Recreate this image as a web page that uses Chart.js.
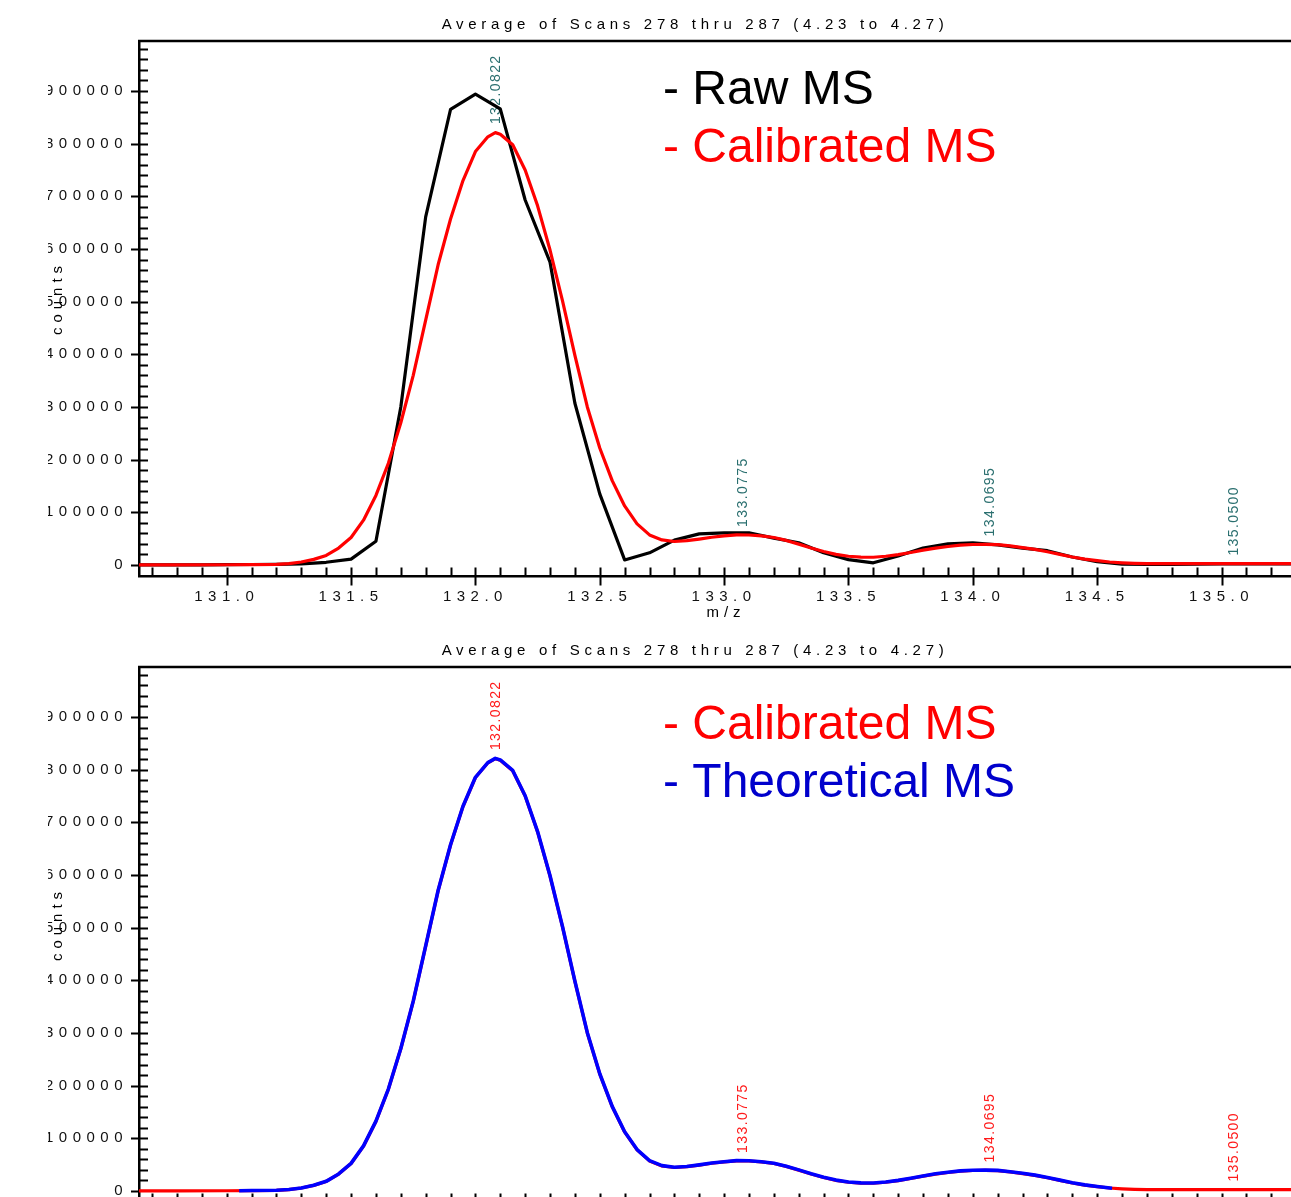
<!DOCTYPE html>
<html>
<head>
<meta charset="utf-8">
<title>Average of Scans 278 thru 287</title>
<script src="https://cdn.jsdelivr.net/npm/chart.js@4.4.1/dist/chart.umd.min.js"></script>
<style>
  html, body { margin: 0; padding: 0; background: #fff; overflow: hidden; width: 1291px; height: 1197px; }
  .panel { position: absolute; left: 0; width: 1320px; height: 626px; }
  #top { top: 0; }
  #bottom { top: 626px; }
</style>
</head>
<body>
<div class="panel" id="top"><canvas id="chartRaw"></canvas></div>
<div class="panel" id="bottom"><canvas id="chartTheo"></canvas></div>
<script>
// raw spectrum, one point every 0.1 m/z
const mzRaw = [130.6, 130.7, 130.8, 130.9, 131.0, 131.1, 131.2, 131.3, 131.4, 131.5, 131.6, 131.7, 131.8, 131.9,
    132.0, 132.1, 132.2, 132.3, 132.4, 132.5, 132.6, 132.7, 132.8, 132.9, 133.0, 133.1, 133.2, 133.3, 133.4,
    133.5, 133.6, 133.7, 133.8, 133.9, 134.0, 134.1, 134.2, 134.3, 134.4, 134.5, 134.6, 134.7, 134.8, 134.9,
    135.0, 135.1, 135.2, 135.3, 135.4];
const rawCounts = [0, 0, 0, 0, 500, 800, 1000, 2000, 5000, 11000, 45000, 300000, 661000, 865000,
    894000, 866000, 693000, 575000, 307000, 135000, 9500, 23000, 47000, 59000, 61000, 61000, 51000, 42000, 23000,
    10000, 4000, 17000, 32000, 40000, 42000, 38000, 32000, 27000, 15000, 6000, 1500, 1000, 1000, 1500,
    2000, 2000, 2000, 2000, 2000];

// calibrated spectrum
const mzCal = [130.6, 130.8, 131.0, 131.1, 131.2, 131.25, 131.3, 131.35, 131.4, 131.45, 131.5, 131.55, 131.6,
    131.65, 131.7, 131.75, 131.8, 131.85, 131.9, 131.95, 132.0, 132.05, 132.08, 132.1, 132.15, 132.2, 132.25,
    132.3, 132.35, 132.4, 132.45, 132.5, 132.55, 132.6, 132.65, 132.7, 132.75, 132.8, 132.85, 132.9, 132.95,
    133.0, 133.05, 133.1, 133.15, 133.2, 133.25, 133.3, 133.35, 133.4, 133.45, 133.5, 133.55, 133.6, 133.65,
    133.7, 133.75, 133.8, 133.85, 133.9, 133.95, 134.0, 134.05, 134.1, 134.15, 134.2, 134.25, 134.3, 134.35,
    134.4, 134.45, 134.5, 134.55, 134.6, 134.65, 134.7, 134.8, 134.9, 135.0, 135.1, 135.2, 135.4];
const calCounts = [0, 0, 300, 600, 1200, 2500, 5500, 10500, 18000, 32000, 52000, 85000, 132000,
    193000, 270000, 360000, 465000, 570000, 657000, 730000, 785000, 813000, 821000, 818000, 798000, 750000, 682000,
    598000, 502000, 398000, 300000, 222000, 160000, 112000, 78000, 57000, 47500, 44500, 46000, 49000, 52500,
    55000, 57000, 56800, 55000, 52000, 46500, 39500, 32000, 25500, 20000, 16500, 14800, 14600, 16500,
    19500, 23500, 28000, 32000, 35000, 37500, 38800, 39000, 38500, 36000, 33000, 29500, 25000, 20000,
    15000, 11000, 8000, 5500, 4000, 3000, 2500, 2300, 2300, 2500, 2600, 2500, 2500];

// theoretical spectrum (only covers 131.05 - 134.56)
const mzTheo = [131.05, 131.1, 131.2, 131.25, 131.3, 131.35, 131.4, 131.45, 131.5, 131.55, 131.6,
    131.65, 131.7, 131.75, 131.8, 131.85, 131.9, 131.95, 132.0, 132.05, 132.08, 132.1, 132.15, 132.2, 132.25,
    132.3, 132.35, 132.4, 132.45, 132.5, 132.55, 132.6, 132.65, 132.7, 132.75, 132.8, 132.85, 132.9, 132.95,
    133.0, 133.05, 133.1, 133.15, 133.2, 133.25, 133.3, 133.35, 133.4, 133.45, 133.5, 133.55, 133.6, 133.65,
    133.7, 133.75, 133.8, 133.85, 133.9, 133.95, 134.0, 134.05, 134.1, 134.15, 134.2, 134.25, 134.3, 134.35,
    134.4, 134.45, 134.5, 134.56];
const theoCounts = [450, 650, 1300, 2600, 5600, 10600, 18200, 32200, 52300, 85500, 132500,
    193500, 270500, 360500, 465500, 570500, 657500, 730500, 785500, 813500, 821500, 818500, 798500, 750500, 682500,
    598500, 502500, 398500, 300500, 222500, 160500, 112500, 78500, 57500, 48000, 45000, 46500, 49500, 53000,
    55500, 57500, 57300, 55500, 52500, 47000, 40000, 32500, 26000, 20500, 17000, 15300, 15100, 17000,
    20000, 24000, 28500, 32500, 35500, 38000, 39300, 39500, 39000, 36500, 33500, 30000, 25500, 20500,
    15500, 11500, 8500, 5000];

// labelled peaks
const peakMz = [132.0822, 133.0775, 134.0695, 135.0500];
const peakCounts = [822000, 57000, 39000, 2500];

// axis ticks
const yTicks = [0, 100000, 200000, 300000, 400000, 500000, 600000, 700000, 800000, 900000];
const xTicks = [131.0, 131.5, 132.0, 132.5, 133.0, 133.5, 134.0, 134.5, 135.0];

const titleText = "Average of Scans 278 thru 287 (4.23 to 4.27)";
const FONT = "'Liberation Sans', Arial, sans-serif";

function pts(xs, ys) {
    return xs.map((m, i) => ({ x: m, y: ys[i] }));
}

const msDecor = {
    id: "msDecor",
    beforeDraw(chart) {
        chart.ctx.letterSpacing = "5.5px";
    },
    beforeDatasetsDraw(chart, args, opts) {
        const { ctx, scales: { x, y } } = chart;
        ctx.save();
        ctx.letterSpacing = "1.4px";
        ctx.font = "14px " + FONT;
        ctx.fillStyle = opts.peakColor;
        ctx.textAlign = "left";
        ctx.textBaseline = "middle";
        peakMz.forEach((m, i) => {
            ctx.save();
            ctx.translate(x.getPixelForValue(m), y.getPixelForValue(peakCounts[i]) - 8);
            ctx.rotate(-Math.PI / 2);
            ctx.fillText(m.toFixed(4), 0, 0);
            ctx.restore();
        });
        ctx.restore();
    },
    afterDraw(chart, args, opts) {
        const { ctx, chartArea: a, scales: { x, y } } = chart;
        ctx.save();
        // left part of the picture is cut off
        ctx.fillStyle = "#fff";
        ctx.fillRect(0, 0, 48, chart.height);

        ctx.strokeStyle = "#000";
        ctx.lineWidth = 2.5;
        ctx.beginPath();
        ctx.moveTo(a.left - 1, a.top);
        ctx.lineTo(a.right, a.top);
        ctx.stroke();

        // tick marks
        ctx.lineWidth = 2;
        ctx.beginPath();
        for (let k = 1; k * 20000 < y.max; k++) {
            const py = Math.round(y.getPixelForValue(k * 20000)) + 0.5;
            const major = k % 5 === 0;
            ctx.moveTo(major ? a.left - 8 : a.left, py);
            ctx.lineTo(a.left + 9, py);
        }
        ctx.moveTo(a.left - 8, Math.round(y.getPixelForValue(0)) + 0.5);
        ctx.lineTo(a.left, Math.round(y.getPixelForValue(0)) + 0.5);
        for (let k = 1307; k <= 1353; k++) {
            const px = Math.round(x.getPixelForValue(k / 10)) + 0.5;
            const major = k % 5 === 0;
            ctx.moveTo(px, a.bottom - 9);
            ctx.lineTo(px, major ? a.bottom + 9 : a.bottom);
        }
        ctx.stroke();

        // title and axis titles
        ctx.fillStyle = "#000";
        ctx.font = "15px " + FONT;
        ctx.letterSpacing = "4.7px";
        ctx.textAlign = "center";
        ctx.textBaseline = "middle";
        ctx.fillText(titleText, 695, 25);
        ctx.letterSpacing = "5px";
        ctx.fillText("m/z", 726, 613);
        ctx.save();
        ctx.translate(58, 300);
        ctx.rotate(-Math.PI / 2);
        ctx.fillText("counts", 2, 0);
        ctx.restore();

        // legend
        ctx.letterSpacing = "0px";
        ctx.font = "48px " + FONT;
        ctx.textAlign = "left";
        ctx.textBaseline = "alphabetic";
        opts.legend.forEach((item, i) => {
            ctx.fillStyle = item.color;
            ctx.fillText(item.text, 663, opts.legendY[i]);
        });
        ctx.restore();
    }
};

function makeOptions(decor) {
    return {
        responsive: true,
        maintainAspectRatio: false,
        animation: false,
        events: [],
        layout: { padding: { top: 41, left: 0, right: 0, bottom: 0 } },
        elements: { point: { radius: 0 }, line: { tension: 0, borderJoinStyle: "round" } },
        plugins: {
            legend: { display: false },
            tooltip: { enabled: false },
            title: { display: false },
            msDecor: decor
        },
        scales: {
            x: {
                type: "linear",
                min: 130.6473,
                max: 135.396,
                afterBuildTicks: s => { s.ticks = xTicks.map(v => ({ value: v })); },
                afterFit: s => { s.height = 49.5; },
                grid: { display: false },
                border: { display: true, color: "#000", width: 2.5 },
                ticks: {
                    color: "#111",
                    font: { family: FONT, size: 15 },
                    padding: 3,
                    maxRotation: 0,
                    autoSkip: false,
                    callback: v => v.toFixed(1)
                }
            },
            y: {
                type: "linear",
                min: -22000,
                max: 995000,
                afterBuildTicks: s => {
                    s.ticks = yTicks.map(v => ({ value: v }));
                },
                afterFit: s => { s.width = 139; },
                grid: { display: false },
                border: { display: true, color: "#000", width: 2.5 },
                ticks: {
                    color: "#111",
                    font: { family: FONT, size: 15 },
                    padding: 3,
                    autoSkip: false,
                    callback: v => String(v)
                }
            }
        }
    };
}

// y labels are spaced a little wider than the x labels
const wideY = {
    id: "wideY",
    beforeDraw(chart) {
        const y = chart.scales.y;
        const orig = y.draw.bind(y);
        if (!y._wide) {
            y._wide = true;
            y.draw = function (area) {
                chart.ctx.save();
                chart.ctx.letterSpacing = "6px";
                orig(area);
                chart.ctx.restore();
            };
        }
    }
};

new Chart(document.getElementById("chartRaw"), {
    type: "line",
    data: {
        datasets: [
            { label: "Calibrated MS", data: pts(mzCal, calCounts), borderColor: "#ff0000", borderWidth: 3.2 },
            { label: "Raw MS", data: pts(mzRaw, rawCounts), borderColor: "#000000", borderWidth: 3.2 }
        ]
    },
    options: makeOptions({
        peakColor: "#2a6f6f",
        legend: [{ text: "- Raw MS", color: "#000000" }, { text: "- Calibrated MS", color: "#ff0000" }],
        legendY: [104, 162]
    }),
    plugins: [msDecor, wideY]
});

new Chart(document.getElementById("chartTheo"), {
    type: "line",
    data: {
        datasets: [
            { label: "Theoretical MS", data: pts(mzTheo, theoCounts), borderColor: "#0000ff", borderWidth: 3.6 },
            { label: "Calibrated MS", data: pts(mzCal, calCounts), borderColor: "#ff0000", borderWidth: 3.2 }
        ]
    },
    options: makeOptions({
        peakColor: "#ff1a1a",
        legend: [{ text: "- Calibrated MS", color: "#ff0000" }, { text: "- Theoretical MS", color: "#0000cc" }],
        legendY: [113, 171]
    }),
    plugins: [msDecor, wideY]
});
</script>
</body>
</html>
